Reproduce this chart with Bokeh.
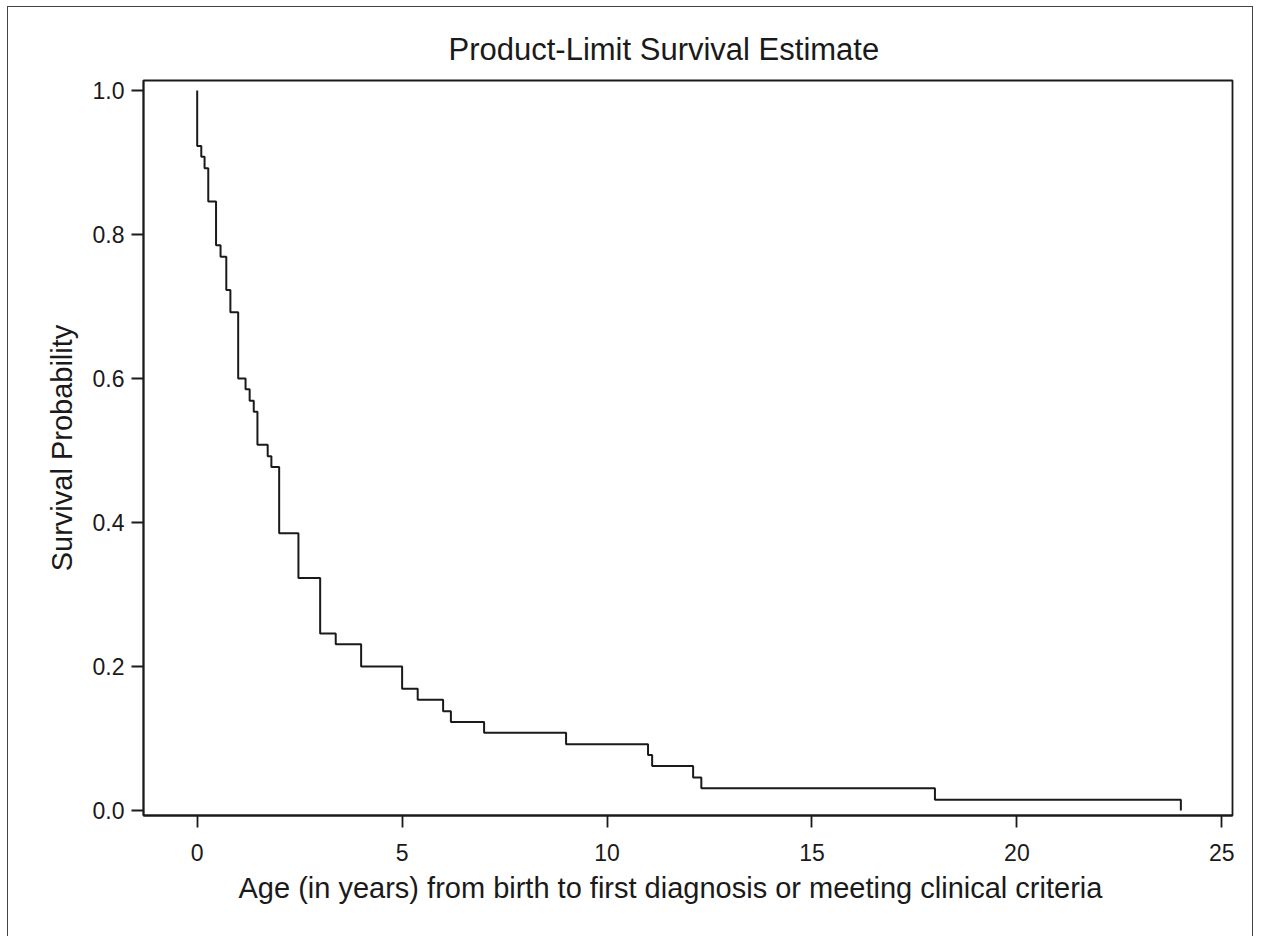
from bokeh.plotting import figure
from bokeh.models import Range1d, FixedTicker, PrintfTickFormatter, Title
from bokeh.embed import file_html
from bokeh.resources import INLINE

# Kaplan-Meier (product-limit) estimate
event_times = [0.0, 0.0, 0.10, 0.18, 0.27, 0.46, 0.57, 0.71, 0.81, 1.00, 1.18, 1.28,
               1.38, 1.47, 1.72, 1.81, 2.00, 2.47, 3.00, 3.38, 4.00, 5.00, 5.38,
               6.00, 6.19, 7.00, 9.00, 11.00, 11.10, 12.10, 12.30, 18.00, 24.00]
survival = [1.000, 0.923, 0.908, 0.892, 0.846, 0.785, 0.769, 0.723, 0.692, 0.600,
            0.585, 0.569, 0.554, 0.508, 0.492, 0.477, 0.385, 0.323, 0.246, 0.231,
            0.200, 0.169, 0.154, 0.138, 0.123, 0.108, 0.092, 0.077, 0.062, 0.046,
            0.031, 0.015, 0.000]

x_ticks = [0, 5, 10, 15, 20, 25]
y_ticks = [0.0, 0.2, 0.4, 0.6, 0.8, 1.0]

title_text = "Product-Limit Survival Estimate"
x_label = "Age (in years) from birth to first diagnosis or meeting clinical criteria"
y_label = "Survival Probability"

FONT = "Liberation Sans"
INK = "#1a1a1a"

p = figure(width=1246, height=930, output_backend="svg", toolbar_location=None,
           x_range=Range1d(-1.31, 25.26), y_range=Range1d(-0.0069, 1.0139),
           min_border_left=135, min_border_right=22, min_border_top=73,
           min_border_bottom=122,
           styles={"margin-left": "7px", "margin-top": "6px",
                   "border-left": "1px solid #444", "border-top": "1px solid #444",
                   "border-right": "1px solid #444"})

p.title = Title(text=title_text, align="left", offset=305,
                text_font=FONT, text_font_size="31px", text_font_style="normal",
                text_color=INK, standoff=28)

p.add_layout(Title(text=x_label, align="left", offset=95, text_font=FONT,
                   text_font_size="29px", text_font_style="normal",
                   text_color=INK, standoff=13), "below")

p.step(event_times, survival, mode="after", line_color=INK, line_width=2.0)

p.grid.visible = False
p.outline_line_color = INK
p.outline_line_width = 1.8
p.outline_line_alpha = 1.0

for ax in (p.xaxis[0], p.yaxis[0]):
    ax.axis_line_color = INK
    ax.axis_line_width = 1.8
    ax.major_tick_line_color = INK
    ax.major_tick_line_width = 1.8
    ax.major_tick_out = 12
    ax.major_tick_in = 0
    ax.minor_tick_line_color = None
    ax.major_label_text_font = FONT
    ax.major_label_text_font_size = "23px"
    ax.major_label_text_color = INK
    ax.axis_label_text_font = FONT
    ax.axis_label_text_font_style = "normal"
    ax.axis_label_text_color = INK

p.xaxis[0].ticker = FixedTicker(ticks=x_ticks)
p.xaxis[0].formatter = PrintfTickFormatter(format="%d")
p.xaxis[0].major_label_standoff = 16

p.yaxis[0].ticker = FixedTicker(ticks=y_ticks)
p.yaxis[0].formatter = PrintfTickFormatter(format="%.1f")
p.yaxis[0].major_label_standoff = 7
p.yaxis[0].axis_label = y_label
p.yaxis[0].axis_label_text_font_size = "29px"
p.yaxis[0].axis_label_standoff = 12

p.background_fill_color = "white"
p.border_fill_color = "white"

open("out.html", "w").write(file_html(p, INLINE))
